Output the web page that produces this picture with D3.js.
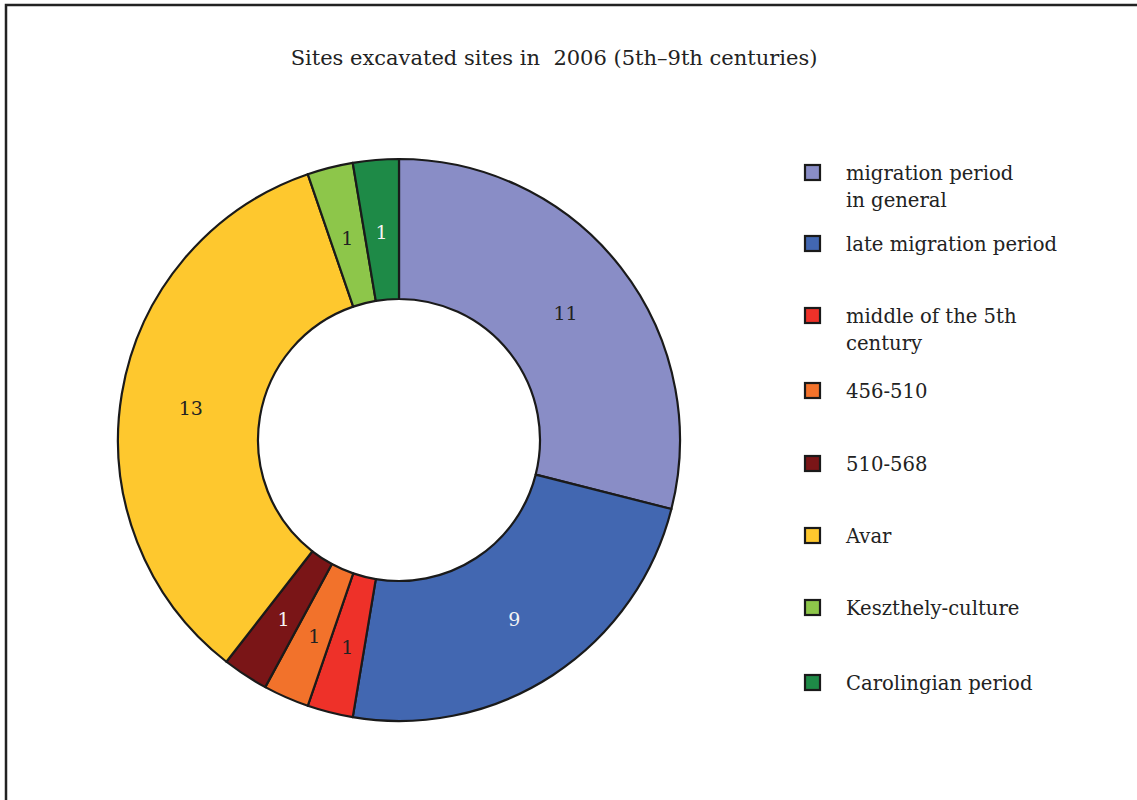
<!DOCTYPE html>
<html><head><meta charset="utf-8">
<script src="https://cdn.jsdelivr.net/npm/d3@7"></script>
<style>body{margin:0;background:#fff}svg{display:block}text{white-space:pre}</style>
</head><body>
<script>
const categories = ["migration period\nin general","late migration period","middle of the 5th\ncentury","456-510","510-568","Avar","Keszthely-culture","Carolingian period"];
const values = [11, 9, 1, 1, 1, 13, 1, 1];
const colors = ["#898dc6","#4267b1","#ee3129","#f2722b","#7a1517","#fec82e","#8dc64a","#1e8a47"];
const labelColors = ["#222","#f4f4f4","#222","#222","#f4f4f4","#222","#222","#f4f4f4"];
const title = "Sites excavated sites in  2006 (5th\u20139th centuries)";
const legendY = [173, 244, 316, 391, 464, 536, 608, 683];

const W = 1137, H = 800;
const svg = d3.select("body").append("svg").attr("width", W).attr("height", H);
const font = "'DejaVu Serif', 'Liberation Serif', serif";

svg.append("rect").attr("x",6).attr("y",5).attr("width",W+20).attr("height",H+20)
  .attr("fill","none").attr("stroke","#222").attr("stroke-width",2.5);

svg.append("text").attr("x",554).attr("y",65).attr("text-anchor","middle")
  .attr("font-family",font).attr("font-size",21).attr("fill","#222").text(title);

const cx = 399, cy = 440, rO = 281, rI = 141;
const pie = d3.pie().sort(null).value(d=>d)(values);
const arc = d3.arc().innerRadius(rI).outerRadius(rO);
const g = svg.append("g").attr("transform",`translate(${cx},${cy})`);
g.selectAll("path").data(pie).join("path")
  .attr("d",arc).attr("fill",(d,i)=>colors[i])
  .attr("stroke","#1a1a1a").attr("stroke-width",2.2).attr("stroke-linejoin","round");
g.selectAll("text").data(pie).join("text")
  .attr("transform",d=>`translate(${arc.centroid(d)})`)
  .attr("text-anchor","middle").attr("dy","0.5em")
  .attr("font-family",font).attr("font-size",19)
  .attr("fill",(d,i)=>labelColors[i]).text(d=>d.value);

const lg = svg.append("g");
categories.forEach((c,i)=>{
  const y = legendY[i];
  lg.append("rect").attr("x",805).attr("y",y-8).attr("width",15).attr("height",15)
    .attr("fill",colors[i]).attr("stroke","#1a1a1a").attr("stroke-width",2.2);
  const t = lg.append("text").attr("x",846).attr("y",y+7)
    .attr("font-family",font).attr("font-size",19.6).attr("fill","#222");
  c.split("\n").forEach((line,j)=>{
    t.append("tspan").attr("x",846).attr("dy", j===0?0:27).text(line);
  });
});
</script>
</body></html>
